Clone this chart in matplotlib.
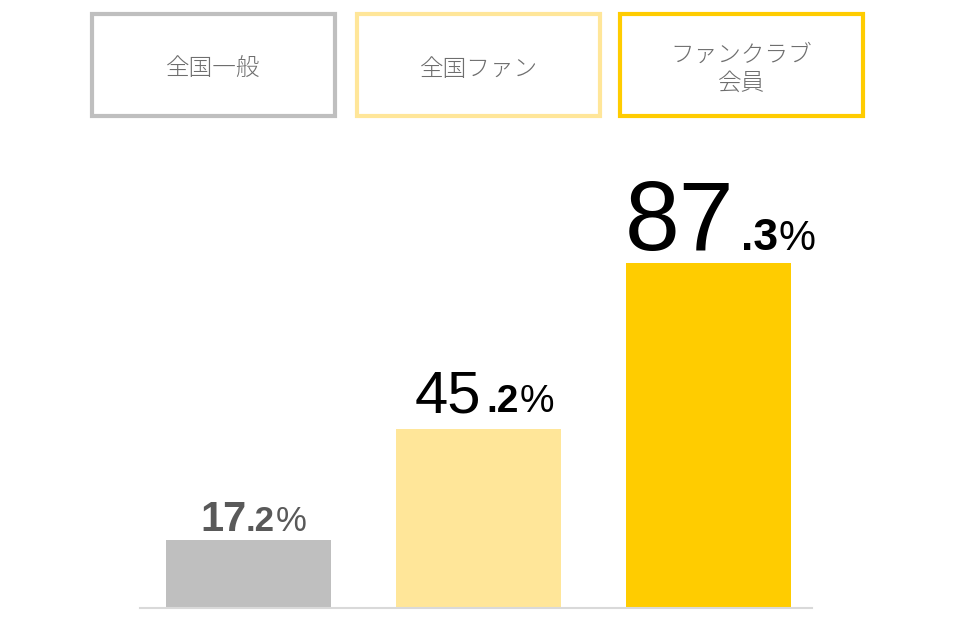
import matplotlib.pyplot as plt
from matplotlib.patches import Rectangle
from matplotlib.transforms import IdentityTransform

plt.rcParams['font.family'] = ['Noto Sans CJK JP', 'DejaVu Sans']

categories = ['全国一般', '全国ファン', 'ファンクラブ\n会員']
values = [17.2, 45.2, 87.3]
int_parts = ['17', '45', '87']
dec_parts = ['.2', '.2', '.3']
colors = ['#BFBFBF', '#FFE699', '#FFCC00']
label_colors = ['#595959', '#000000', '#000000']

# label styling (sizes in pt, offsets in px from bar centre / bar top)
big_sizes = [30, 43, 71]
big_weights = ['bold', 'normal', 'normal']
dec_sizes = [25, 28, 32]
pct_sizes = [25, 28, 30]
gaps_px = [9, 17, 13]
part_x_px = [(-48.5, -2.5), (-63.5, 7.5), (-84, 32)]

W, H = 960, 640
fig = plt.figure(figsize=(9.6, 6.4), dpi=100)

# bar area: baseline at y=608px, 3.95px per percent, x from 140 to 812px
ax = fig.add_axes([140 / W, 32 / H, 672 / W, 395 / H])
x = list(range(len(values)))
ax.bar(x, values, width=165 / 230, color=colors)
ax.set_xlim(-108.5 / 230, 563.5 / 230)
ax.set_ylim(0, 100)
for s in ['top', 'right', 'left']:
    ax.spines[s].set_visible(False)
ax.spines['bottom'].set_color('#D9D9D9')
ax.spines['bottom'].set_linewidth(1.5)
ax.set_xticks([])
ax.set_yticks([])

# value labels: big integer part, bold small decimal, thin percent sign
disp = IdentityTransform()
fig.canvas.draw()
renderer = fig.canvas.get_renderer()
for i, v in enumerate(values):
    cx, top = ax.transData.transform((x[i], v))
    base = top + gaps_px[i]
    xi, xd = part_x_px[i]
    ax.text(cx + xi, base, int_parts[i], fontsize=big_sizes[i], transform=disp,
            family='Liberation Sans', fontweight=big_weights[i],
            color=label_colors[i], va='baseline')
    dec = ax.text(cx + xd, base, dec_parts[i], fontsize=dec_sizes[i],
                  transform=disp, family='Liberation Sans', fontweight='bold',
                  color=label_colors[i], va='baseline')
    xp = dec.get_window_extent(renderer).x1 + 1
    ax.text(xp, base, '%', fontsize=pct_sizes[i], transform=disp,
            family='Liberation Sans', color=label_colors[i], va='baseline')

# category boxes at the top
box_left = [92, 357, 620]
box_w, box_top, box_bottom = 243, 14, 116
for i, cat in enumerate(categories):
    r = Rectangle((box_left[i] / W, 1 - box_bottom / H),
                  box_w / W, (box_bottom - box_top) / H,
                  transform=fig.transFigure, fill=False,
                  edgecolor=colors[i], linewidth=3)
    fig.add_artist(r)
    fig.text((box_left[i] + box_w / 2) / W,
             1 - ((box_top + box_bottom) / 2 + 4) / H,
             cat, ha='center', va='center', fontsize=17, color='#6E6E6E',
             linespacing=1.15, fontweight='light')

fig.savefig('out.png', dpi=100)
